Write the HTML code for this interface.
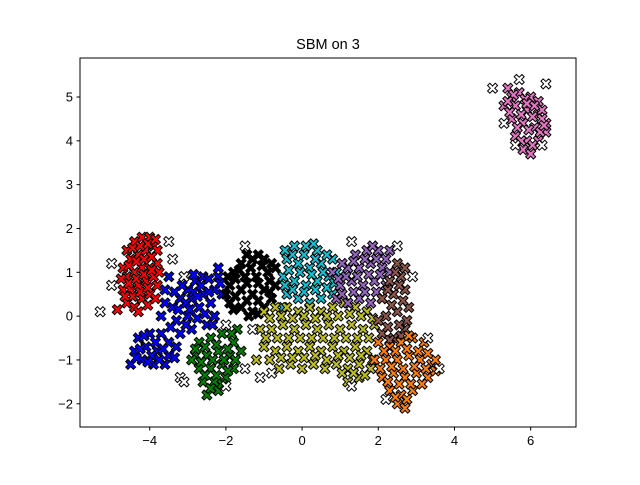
<!DOCTYPE html>
<html><head><meta charset="utf-8"><style>
body{margin:0;background:#fff}
svg text{font-family:"Liberation Sans","DejaVu Sans",sans-serif;fill:#000}
</style></head><body>
<svg id="chart" width="640" height="480" viewBox="0 0 640 480" xmlns="http://www.w3.org/2000/svg">
<rect width="640" height="480" fill="#fff"/>
<text x="328" y="49" font-size="14.5" text-anchor="middle">SBM on 3</text>
<g id="marks"></g>
<rect x="80" y="58" width="496" height="369" fill="none" stroke="#000" stroke-width="1"/>
<g id="axes"></g>
</svg>
<script>
const xTicks=[-4,-2,0,2,4,6];
const yTicks=[-2,-1,0,1,2,3,4,5];
const redPts=[[-4.6,0.3],[-4.4,0.2],[-4.2,0.4],[-4.0,0.5],[-3.8,0.7],[-4.7,0.6],[-4.5,0.6],[-4.3,0.7],[-4.1,0.8],[-3.9,0.9],[-4.6,0.9],[-4.4,1.0],[-4.2,1.1],[-4.0,1.1],[-3.8,1.2],[-4.5,1.3],[-4.3,1.4],[-4.1,1.5],[-3.9,1.6],[-4.4,1.7],[-4.2,1.8],[-4.0,1.8],[-3.8,1.5],[-4.7,1.1],[-4.85,0.15],[-4.6,1.5],[-4.3,0.1],[-4.05,0.25],[-3.75,1.0],
[-4.45,0.45],[-4.25,0.55],[-4.05,0.65],[-4.55,0.75],[-4.35,0.85],[-4.15,0.95],[-3.95,1.05],[-4.55,1.15],[-4.35,1.25],[-4.15,1.3],[-3.95,1.35],[-4.45,1.55],[-4.25,1.6],[-4.05,1.65],[-3.85,1.75],[-4.65,0.45],[-3.85,0.4],[-4.75,0.85]];
const bluePts=[[-3.4,0.2],[-3.2,0.4],[-3.0,0.6],[-2.8,0.8],[-2.6,0.5],[-2.4,0.3],[-2.2,0.9],[-2.1,0.5],[-3.3,-0.1],[-3.0,0.0],[-2.7,0.2],[-2.5,-0.2],[-2.3,0.0],[-3.2,-0.4],[-2.9,-0.3],[-3.6,0.6],[-3.5,0.9],[-3.1,0.9],[-2.6,0.9],[-2.3,0.6],[-4.3,-0.5],[-4.0,-0.4],[-3.7,-0.4],[-3.5,-0.6],[-4.4,-0.8],[-4.1,-0.7],[-3.8,-0.8],[-3.5,-0.9],[-4.2,-1.0],[-3.9,-1.1],[-3.6,-1.1],[-4.5,-1.1],[-3.3,-0.7],[-2.2,1.1],[-2.9,0.4],[-3.7,0.0],
[-3.25,0.15],[-3.05,0.3],[-2.85,0.55],[-2.65,0.7],[-2.45,0.55],[-2.45,0.85],[-3.35,0.55],[-3.15,0.7],[-2.95,0.15],[-2.75,-0.05],[-2.55,0.05],[-2.35,-0.2],[-3.05,-0.2],[-3.45,-0.25],[-3.6,0.3],[-2.75,0.45],[-4.15,-0.45],[-3.85,-0.6],[-4.25,-0.75],[-3.95,-0.9],[-3.65,-0.75],[-4.35,-0.95],[-3.75,-1.0],[-4.05,-1.05],[-3.35,-0.95],[-2.85,0.95],[-2.15,0.75]];
const greenPts=[[-2.7,-0.6],[-2.4,-0.5],[-2.1,-0.4],[-1.8,-0.6],[-2.8,-0.9],[-2.5,-0.9],[-2.2,-0.8],[-1.9,-0.9],[-1.6,-0.8],[-2.7,-1.2],[-2.4,-1.2],[-2.1,-1.1],[-1.8,-1.2],[-2.6,-1.5],[-2.3,-1.5],[-2.0,-1.4],[-2.5,-1.8],[-2.2,-1.7],[-1.7,-0.3],[-2.9,-1.0],
[-2.55,-0.7],[-2.25,-0.65],[-1.95,-0.75],[-2.65,-1.05],[-2.35,-1.0],[-2.05,-1.0],[-1.75,-1.0],[-2.55,-1.35],[-2.25,-1.35],[-1.95,-1.25],[-2.4,-1.65],[-2.1,-1.55],[-1.85,-0.4],[-2.8,-0.75]];
const blackPts=[[-1.9,0.3],[-1.6,0.2],[-1.3,0.1],[-1.0,0.2],[-0.8,0.4],[-1.9,0.7],[-1.6,0.6],[-1.3,0.5],[-1.0,0.6],[-0.7,0.7],[-1.8,1.0],[-1.5,0.9],[-1.2,0.9],[-0.9,1.0],[-1.6,1.2],[-1.3,1.3],[-1.0,1.3],[-2.0,0.5],[-1.4,0.0],[-0.7,1.1],
[-1.75,0.45],[-1.45,0.35],[-1.15,0.35],[-0.85,0.55],[-1.75,0.85],[-1.45,0.75],[-1.15,0.75],[-0.85,0.8],[-1.65,1.05],[-1.35,1.1],[-1.05,1.15],[-0.8,1.2],[-1.45,1.4],[-1.15,1.4],[-1.8,0.15],[-1.15,0.05],[-1.95,0.9]];
const cyanPts=[[-0.4,0.5],[-0.1,0.4],[0.2,0.3],[0.5,0.4],[0.8,0.5],[-0.5,0.9],[-0.2,0.8],[0.1,0.7],[0.4,0.8],[0.7,0.9],[-0.4,1.3],[-0.1,1.2],[0.2,1.1],[0.5,1.2],[0.8,1.3],[-0.2,1.6],[0.1,1.6],[0.4,1.5],[-0.5,0.2],[0.9,1.0],
[-0.25,0.6],[0.05,0.55],[0.35,0.6],[0.65,0.65],[-0.35,1.05],[-0.05,1.0],[0.25,0.95],[0.55,1.0],[0.85,0.75],[-0.25,1.4],[0.05,1.4],[0.35,1.3],[0.65,1.4],[-0.45,0.7],[0.3,1.65],[-0.45,1.5]];
const olivePts=[[-1.0,0.1],[-0.7,0.2],[-0.4,0.2],[-0.1,0.1],[0.2,0.2],[0.5,0.1],[0.8,0.2],[1.1,0.3],[1.4,0.2],[1.7,0.1],[-1.1,-0.3],[-0.8,-0.3],[-0.5,-0.2],[-0.2,-0.3],[0.1,-0.2],[0.4,-0.3],[0.7,-0.2],[1.0,-0.3],[1.3,-0.2],[1.6,-0.3],[1.9,-0.2],[-1.0,-0.7],[-0.7,-0.8],[-0.4,-0.7],[-0.1,-0.8],[0.2,-0.7],[0.5,-0.8],[0.8,-0.7],[1.1,-0.8],[1.4,-0.7],[1.7,-0.8],[-0.6,-1.2],[-0.3,-1.1],[0.0,-1.2],[0.3,-1.1],[0.9,-1.1],[1.2,-1.2],[1.5,-1.1],[1.8,-1.2],[1.2,-1.5],[1.5,-1.4],[-1.2,-1.0],
[-0.85,-0.05],[-0.55,0.0],[-0.25,-0.05],[0.05,0.0],[0.35,-0.05],[0.65,0.0],[0.95,0.0],[1.25,0.05],[1.55,0.0],[1.85,-0.05],[-0.95,-0.5],[-0.65,-0.5],[-0.35,-0.5],[-0.05,-0.5],[0.25,-0.5],[0.55,-0.5],[0.85,-0.5],[1.15,-0.5],[1.45,-0.5],[1.75,-0.5],[-0.85,-1.0],[-0.55,-0.95],[-0.25,-0.95],[0.05,-0.95],[0.35,-0.9],[0.65,-1.0],[0.95,-0.9],[1.25,-0.95],[1.55,-0.9],[1.85,-1.0],[1.05,-1.3],[1.35,-1.3],[1.65,-1.35],[0.6,-1.2]];
const purplePts=[[0.9,0.4],[1.2,0.3],[1.5,0.4],[1.8,0.3],[2.1,0.4],[1.0,0.7],[1.3,0.8],[1.6,0.7],[1.9,0.8],[2.2,0.7],[1.2,1.1],[1.5,1.1],[1.8,1.2],[2.1,1.1],[1.7,1.5],[2.0,1.5],[2.3,1.5],[1.4,1.4],[0.8,1.0],
[1.05,0.5],[1.35,0.55],[1.65,0.55],[1.95,0.55],[1.15,0.9],[1.45,0.9],[1.75,0.95],[2.05,0.95],[2.3,1.0],[1.35,1.25],[1.65,1.3],[1.95,1.3],[2.2,1.3],[1.85,1.6],[0.95,0.85],[1.05,1.2]];
const brownPts=[[2.1,-0.4],[2.4,-0.5],[2.7,-0.3],[2.2,0.0],[2.5,0.1],[2.8,0.2],[2.1,0.4],[2.4,0.5],[2.7,0.6],[2.3,0.8],[2.6,0.9],[2.5,1.2],[2.0,-0.1],[2.75,-0.1],
[2.25,-0.25],[2.55,-0.2],[2.35,0.25],[2.65,0.35],[2.25,0.6],[2.55,0.7],[2.45,1.0],[2.7,1.1],[2.3,-0.55],[2.6,-0.45]];
const orangePts=[[2.0,-0.6],[2.3,-0.7],[2.6,-0.6],[2.9,-0.5],[3.2,-0.6],[1.9,-1.0],[2.2,-1.0],[2.5,-1.0],[2.8,-0.9],[3.1,-1.0],[3.4,-1.1],[2.1,-1.4],[2.4,-1.3],[2.7,-1.4],[3.0,-1.3],[3.3,-1.4],[2.3,-1.7],[2.6,-1.8],[2.9,-1.7],[2.5,-2.0],[2.7,-2.1],[3.5,-1.0],
[2.15,-0.8],[2.45,-0.8],[2.75,-0.75],[3.05,-0.8],[3.3,-0.85],[2.05,-1.2],[2.35,-1.15],[2.65,-1.2],[2.95,-1.15],[3.25,-1.2],[2.25,-1.5],[2.55,-1.55],[2.85,-1.55],[3.15,-1.55],[2.45,-1.85],[2.75,-1.9],[2.8,-0.45],[3.5,-1.25]];
const pinkPts=[[5.4,5.2],[5.7,5.1],[6.0,5.0],[6.2,4.9],[5.3,4.8],[5.6,4.8],[5.9,4.7],[6.2,4.6],[6.4,4.4],[5.5,4.5],[5.8,4.4],[6.1,4.3],[6.4,4.2],[5.6,4.1],[5.9,4.0],[6.2,4.0],[5.8,3.8],[6.0,3.7],[5.5,5.0],[6.3,4.7],
[5.55,5.05],[5.85,4.95],[6.1,4.8],[5.45,4.65],[5.75,4.6],[6.05,4.55],[6.3,4.5],[5.65,4.3],[5.95,4.25],[6.25,4.2],[5.75,4.0],[6.05,3.9],[6.35,4.35],[5.9,4.85],[5.4,4.9]];
const outlierPts=[[-5.3,0.1],[-5.0,1.2],[-5.0,0.7],[-3.5,1.7],[-3.4,1.3],[-3.1,0.9],[-2.0,-1.6],[-1.5,-1.2],[-1.1,-1.4],[-3.2,-1.4],[-3.1,-1.5],[-1.5,1.6],[-0.8,-1.3],[1.3,1.7],[2.5,1.6],[2.9,0.9],[3.3,-0.5],[3.6,-1.2],[2.2,-1.9],[1.3,-1.6],[5.0,5.2],[5.3,4.4],[5.7,5.4],[6.4,5.3],[5.6,3.9],[6.3,3.9],[-2.0,-0.2],[-1.3,-0.3]];

const X0=-5.83,X1=7.19,Y0=-2.53,Y1=5.89,L=80,R=576,T=58,B=427;
function sx(v){return L+(v-X0)/(X1-X0)*(R-L);}
function sy(v){return B-(v-Y0)/(Y1-Y0)*(B-T);}
const NS="http://www.w3.org/2000/svg";
const marks=document.getElementById('marks');
const axes=document.getElementById('axes');
const u=[[-1,-0.55],[-0.55,-1],[0,-0.45],[0.55,-1],[1,-0.55],[0.45,0],[1,0.55],[0.55,1],[0,0.45],[-0.55,1],[-1,0.55],[-0.45,0]];
function marker(x,y,fill,name){
  const p=document.createElementNS(NS,'polygon');
  const s=5,cx=sx(x),cy=sy(y);
  p.setAttribute('points',u.map(q=>(cx+q[0]*s).toFixed(1)+','+(cy+q[1]*s).toFixed(1)).join(' '));
  p.setAttribute('fill',fill);p.setAttribute('stroke','#000');p.setAttribute('stroke-width','1');
  
  
  marks.appendChild(p);
}
const groups=[[redPts,'#ff0000','red-cluster-point'],[bluePts,'#0000ff','blue-cluster-point'],[greenPts,'#008000','green-cluster-point'],[blackPts,'#000000','black-cluster-point'],[cyanPts,'#17becf','cyan-cluster-point'],[olivePts,'#bcbd22','olive-cluster-point'],[purplePts,'#9467bd','purple-cluster-point'],[brownPts,'#8c564b','brown-cluster-point'],[orangePts,'#ff7f0e','orange-cluster-point'],[pinkPts,'#e377c2','pink-cluster-point'],[outlierPts,'#ffffff','outlier-point']];
groups.forEach(g=>g[0].forEach(p=>marker(p[0],p[1],g[1],g[2])));
xTicks.forEach(v=>{
  const l=document.createElementNS(NS,'line');
  l.setAttribute('x1',sx(v));l.setAttribute('x2',sx(v));l.setAttribute('y1',B);l.setAttribute('y2',B+3.5);l.setAttribute('stroke','#000');
  
  
  axes.appendChild(l);
  const t=document.createElementNS(NS,'text');
  t.setAttribute('x',sx(v));t.setAttribute('y',B+18);t.setAttribute('font-size','13');t.setAttribute('text-anchor','middle');
  t.textContent=v<0?'\u2212'+(-v):String(v);
  
  
  axes.appendChild(t);
});
yTicks.forEach(v=>{
  const l=document.createElementNS(NS,'line');
  l.setAttribute('x1',L-3.5);l.setAttribute('x2',L);l.setAttribute('y1',sy(v));l.setAttribute('y2',sy(v));l.setAttribute('stroke','#000');
  
  
  axes.appendChild(l);
  const t=document.createElementNS(NS,'text');
  t.setAttribute('x',L-7);t.setAttribute('y',sy(v)+4.5);t.setAttribute('font-size','13');t.setAttribute('text-anchor','end');
  t.textContent=v<0?'\u2212'+(-v):String(v);
  
  
  axes.appendChild(t);
});
</script>
</body></html>
